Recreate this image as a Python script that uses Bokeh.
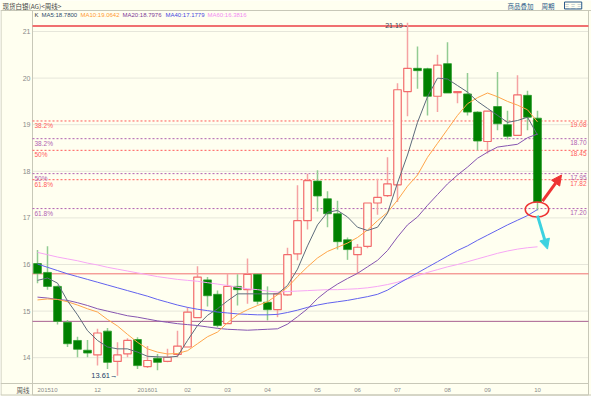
from bokeh.plotting import figure
from bokeh.models import Range1d, Label, Arrow, NormalHead, ColumnDataSource
from bokeh.embed import file_html
from bokeh.resources import INLINE
from bokeh.core.properties import value

# ---------------- data (weekly silver) ----------------
opens = [16.02, 15.83, 15.53, 14.76, 14.37, 14.16, 14.06, 14.57, 13.92, 14.08,
         14.39, 13.81, 13.99, 13.92, 14.07, 14.23, 14.86, 15.67, 15.36, 14.73,
         15.53, 15.46, 15.79, 15.19, 15.03, 15.35, 16.23, 16.94, 17.79, 17.41,
         17.09, 16.53, 16.21, 16.39, 17.32, 17.48, 17.71, 19.71, 20.21, 20.20,
         19.61, 20.31, 19.69, 19.66, 19.27, 18.64, 19.39, 19.00, 18.77, 19.63,
         19.14]
highs = [16.31, 16.39, 15.55, 14.81, 14.45, 14.38, 14.62, 14.64, 14.33, 14.42,
         14.44, 14.25, 14.08, 14.19, 14.58, 15.08, 15.96, 15.73, 15.44, 15.80,
         15.79, 16.13, 15.80, 15.53, 15.40, 16.36, 17.70, 17.95, 18.02, 17.57,
         17.37, 16.58, 16.44, 17.32, 17.84, 18.30, 19.89, 21.19, 20.68, 20.22,
         20.50, 20.77, 19.72, 20.11, 19.29, 19.29, 20.13, 19.30, 20.06, 19.73,
         19.30]
lows = [15.60, 15.46, 14.71, 14.23, 14.01, 14.01, 13.83, 13.76, 13.61, 14.01,
        13.76, 13.78, 13.73, 13.90, 14.01, 14.23, 14.86, 15.10, 14.65, 14.73,
        15.12, 15.16, 15.14, 14.80, 14.87, 15.33, 16.09, 16.75, 17.14, 16.80,
        16.32, 16.10, 15.81, 16.35, 17.07, 17.45, 17.34, 19.18, 19.77, 19.20,
        19.27, 19.68, 19.46, 19.20, 18.45, 18.38, 18.88, 18.68, 18.77, 18.88,
        17.16]
closes = [15.81, 15.53, 14.78, 14.30, 14.18, 14.10, 14.53, 13.90, 14.06, 14.37,
          13.83, 13.94, 13.90, 14.01, 14.25, 14.98, 15.73, 15.33, 14.69, 15.53,
          15.46, 15.79, 15.21, 15.03, 15.37, 16.21, 16.94, 17.80, 17.47, 17.09,
          16.49, 16.32, 16.37, 17.32, 17.44, 17.73, 19.75, 20.21, 20.16, 19.61,
          20.28, 19.68, 19.71, 19.27, 18.65, 19.29, 19.02, 18.75, 19.64, 19.16,
          17.34]

ma5 = [15.66, 15.71, 15.60, 15.22, 14.92, 14.58, 14.37, 14.23, 14.19, 14.19,
       14.12, 14.03, 14.02, 14.01, 14.03, 14.37, 14.69, 14.91, 15.05, 15.22,
       15.37, 15.37, 15.37, 15.37, 15.37, 15.55, 15.90, 16.40, 16.85, 17.12,
       17.16, 17.02, 16.80, 16.73, 16.80, 17.10, 17.75, 18.35, 19.05, 19.60,
       20.00, 19.98, 19.84, 19.70, 19.50, 19.35, 19.20, 19.05, 19.09, 19.16,
       18.78]
ma10 = [15.24, 15.26, 15.25, 15.20, 15.13, 15.05, 14.98, 14.82, 14.68, 14.50,
        14.33, 14.19, 14.12, 14.08, 14.09, 14.15, 14.30, 14.45, 14.55, 14.75,
        14.92, 15.03, 15.12, 15.20, 15.35, 15.51, 15.74, 15.95, 16.14, 16.28,
        16.37, 16.46, 16.58, 16.74, 16.94, 17.12, 17.38, 17.68, 17.92, 18.30,
        18.60, 18.90, 19.20, 19.45, 19.58, 19.68, 19.60, 19.50, 19.42, 19.32,
        19.06]
ma20 = [15.30, 15.28, 15.25, 15.23, 15.18, 15.12, 15.05, 15.00, 14.95, 14.90,
        14.87, 14.83, 14.79, 14.76, 14.73, 14.71, 14.69, 14.66, 14.63, 14.61,
        14.60, 14.59, 14.60, 14.61, 14.62, 14.72, 14.88, 15.05, 15.27, 15.44,
        15.58, 15.70, 15.81, 15.95, 16.09, 16.30, 16.59, 16.85, 17.02, 17.27,
        17.50, 17.73, 17.92, 18.09, 18.28, 18.41, 18.52, 18.55, 18.58, 18.72,
        18.80]
ma40 = [16.01, 15.94, 15.87, 15.80, 15.74, 15.68, 15.62, 15.56, 15.50, 15.44,
        15.38, 15.32, 15.25, 15.19, 15.13, 15.08, 15.04, 15.01, 14.98, 14.96,
        14.94, 14.93, 14.92, 14.92, 14.93, 14.97, 15.02, 15.08, 15.13, 15.17,
        15.20, 15.23, 15.27, 15.31, 15.36, 15.45, 15.58, 15.70, 15.82, 15.94,
        16.06, 16.18, 16.30, 16.40, 16.52, 16.63, 16.74, 16.85, 16.95, 17.05,
        17.18]
ma60 = [16.26, 16.21, 16.16, 16.12, 16.08, 16.03, 15.99, 15.94, 15.90, 15.86,
        15.82, 15.78, 15.74, 15.71, 15.68, 15.66, 15.64, 15.61, 15.58, 15.55,
        15.51, 15.48, 15.46, 15.43, 15.41, 15.42, 15.43, 15.44, 15.45, 15.46,
        15.46, 15.47, 15.48, 15.50, 15.53, 15.57, 15.62, 15.69, 15.76, 15.83,
        15.89, 15.95, 16.00, 16.06, 16.12, 16.18, 16.24, 16.29, 16.33, 16.36,
        16.38]

month_pos = [1, 6, 11, 15, 19, 23, 28, 32, 36, 41, 45, 50]
month_labels = ["201510", "12", "201601", "02", "03", "04", "05", "06", "07", "08", "09", "10"]
price_ticks = [14, 15, 16, 17, 18, 19, 20, 21]

fib_red_levels = [19.08, 18.45, 17.82]
fib_red_names = ["38.2%", "50%", "61.8%"]
fib_red_values = ["19.08", "18.45", "17.82"]
fib_purple_levels = [18.70, 17.95, 17.20]
fib_purple_names = ["38.2%", "50%", "61.8%"]
fib_purple_values = ["18.70", "17.95", "17.20"]

top_line = 21.12
red_support = 15.80
purple_support = 14.78
high_idx, high_val = 37, 21.19
low_idx, low_val = 8, 13.61

legend_names = ["MA5", "MA10", "MA20", "MA40", "MA60"]
legend_values = ["18.7800", "19.0642", "18.7976", "17.1779", "16.3816"]

# ---------------- styling / layout ----------------
BG = "#fffff0"
UP = "#f26b6b"
UP_WICK = "#f5a3a3"
DN = "#008000"
DN_WICK = "#92cc92"
MA_COLORS = ["#5d6b7b", "#ffa54a", "#8655b0", "#6262ee", "#f7a6f5"]
LEG_COLORS = ["#2e4a6a", "#ff9a30", "#803a98", "#4848e0", "#f28cf0"]
FIB_RED = "#ff5a5a"
FIB_PUR = "#b060b0"
PANEL = "#c8c8b8"
FONT = "Liberation Sans"
CJK = "Noto Sans CJK SC"

W, H = 591, 396
PXU = 10.0      # px per candle
PYU = 46.6      # px per price unit
X_ORIGIN = -3.7             # candle index at pixel x = 0
Y_ORIGIN = 21 + 31 / PYU    # price at pixel y = 0
FL, FR, FT, FB = 32, 588, 10, 383   # price panel edges in pixels


def px_x(px):
    return X_ORIGIN + px / PXU


def px_y(py):
    return Y_ORIGIN - py / PYU


p = figure(width=W, height=H, x_range=Range1d(px_x(0), px_x(W)),
           y_range=Range1d(px_y(H), px_y(0)), output_backend="svg", toolbar_location=None,
           x_axis_location=None, y_axis_location=None, min_border=0,
           background_fill_color=BG, border_fill_color=BG)
p.outline_line_color = None
p.grid.visible = False

xl, xr = px_x(FL), px_x(FR)

# grid + tick labels (price axis)
p.segment(x0=[xl] * len(price_ticks), x1=[xr] * len(price_ticks), y0=price_ticks, y1=price_ticks,
          line_color="#e6e6da", line_width=1)
p.text(x=[px_x(30)] * len(price_ticks), y=price_ticks, text=[str(t) for t in price_ticks],
       text_align="right", text_baseline="middle", text_font_size="7px",
       text_font=value(FONT), text_color="#8a8a8a")
# time axis labels
p.text(x=month_pos, y=[px_y(389)] * len(month_pos), text=month_labels, text_align="center",
       text_baseline="middle", text_font_size="6px", text_font=value(FONT), text_color="#8a8a8a")

# panel frame lines
p.segment(x0=[px_x(0), xl, px_x(0), px_x(0.5), xl, px_x(FR)],
          x1=[px_x(W), xl, px_x(FR), px_x(0.5), px_x(FR), px_x(FR)],
          y0=[px_y(FT), px_y(FT), px_y(FB), px_y(FT), px_y(394.5), px_y(FT)],
          y1=[px_y(FT), px_y(394.5), px_y(FB), px_y(394.5), px_y(394.5), px_y(394.5)],
          line_color=PANEL, line_width=1)
p.segment(x0=[px_x(0)], x1=[px_x(W)], y0=[px_y(394.5)], y1=[px_y(394.5)], line_color=PANEL)

# horizontal reference lines
p.segment(x0=[xl], x1=[xr], y0=[top_line], y1=[top_line], line_color="#f07070", line_width=2)
p.segment(x0=[xl], x1=[xr], y0=[red_support], y1=[red_support], line_color="#f07070", line_width=1)
p.segment(x0=[xl], x1=[xr], y0=[purple_support], y1=[purple_support], line_color="#a86090", line_width=1)
p.segment(x0=[xl] * 3, x1=[xr] * 3, y0=fib_red_levels, y1=fib_red_levels, line_color=FIB_RED,
          line_width=1, line_dash="2 2")
p.segment(x0=[xl] * 3, x1=[xr] * 3, y0=fib_purple_levels, y1=fib_purple_levels, line_color=FIB_PUR,
          line_width=1, line_dash="2 2")

# fib texts
fx_left = px_x(34)
fx_right = px_x(586)
dy = 1.0 / PYU
for lv, nm, vv, col in ((fib_red_levels, fib_red_names, fib_red_values, FIB_RED),
                        (fib_purple_levels, fib_purple_names, fib_purple_values, FIB_PUR)):
    p.text(x=[fx_left] * 3, y=[v - dy for v in lv], text=nm, text_color=col,
           text_font_size="6.5px", text_font=value(FONT), text_baseline="top")
    p.text(x=[fx_right] * 3, y=[v - dy for v in lv], text=vv, text_color=col,
           text_font_size="6.5px", text_font=value(FONT), text_baseline="top", text_align="right")

# candles
idx = list(range(len(opens)))
up = [i for i in idx if closes[i] >= opens[i]]
dn = [i for i in idx if closes[i] < opens[i]]


def src(ids):
    return ColumnDataSource(dict(
        x=ids,
        hi=[highs[i] for i in ids], lo=[lows[i] for i in ids],
        top=[max(opens[i], closes[i]) for i in ids],
        bot=[min(opens[i], closes[i]) for i in ids]))


su, sd = src(up), src(dn)
p.segment(x0="x", y0="lo", x1="x", y1="hi", source=su, line_color=UP_WICK, line_width=1.5)
p.segment(x0="x", y0="lo", x1="x", y1="hi", source=sd, line_color=DN_WICK, line_width=1.5)
p.vbar(x="x", top="top", bottom="bot", width=0.75, source=su, fill_color=BG,
       line_color=UP, line_width=1.2)
p.vbar(x="x", top="top", bottom="bot", width=0.78, source=sd, fill_color=DN,
       line_color="#2a9a2a", line_width=0.8)

# moving averages
for ser, col in zip([ma60, ma40, ma20, ma10, ma5], MA_COLORS[::-1]):
    p.line(idx, ser, line_color=col, line_width=1)

# high / low marks
p.text(x=[high_idx - 0.05], y=[high_val - 2.5 / PYU], text=["21.19 -"], text_align="right",
       text_baseline="middle", text_font_size="7px", text_font=value(FONT), text_color="#404050")
p.text(x=[low_idx], y=[low_val], text=["13.61\u2192"], text_align="right",
       text_baseline="middle", text_font_size="7.5px", text_font=value(FONT), text_color="#24406a")

# annotation circle and arrows
circ = dict(x=49.95, y=17.18, w=2.35, h=15 / PYU)
p.ellipse(x=[circ["x"]], y=[circ["y"]], width=circ["w"], height=circ["h"], fill_color=None,
          line_color="#ee3333", line_width=1.5)
p.add_layout(Arrow(end=NormalHead(size=10, fill_color="#ee3333", line_color="#ee3333"),
                   x_start=50.5, y_start=17.36, x_end=52.4, y_end=17.92,
                   line_color="#ee3333", line_width=3))
p.add_layout(Arrow(end=NormalHead(size=10, fill_color="#3cd2e0", line_color="#3cd2e0"),
                   x_start=50.0, y_start=17.05, x_end=51.0, y_end=16.33,
                   line_color="#3cd2e0", line_width=3))

# legend row
leg_x = [41, 80, 122, 165, 207]
p.text(x=[px_x(34)], y=[px_y(14)], text=["K"], text_font_size="6px", text_font=value(FONT),
       text_color="#333333", text_baseline="middle")
p.text(x=[px_x(v) for v in leg_x], y=[px_y(14)] * 5,
       text=[f"{n}:{v}" for n, v in zip(legend_names, legend_values)],
       text_font_size="6px", text_font=value(FONT), text_color=LEG_COLORS, text_baseline="middle")

# title bar texts
p.text(x=[px_x(2)], y=[px_y(5)], text=["现货白银(AG)<周线>"], text_font_size="6.5px",
       text_font=value(CJK), text_color="#444444", text_baseline="middle")
p.text(x=[px_x(507), px_x(541)], y=[px_y(5)] * 2, text=["商品叠加", "周期"], text_font_size="6.5px",
       text_font=value(CJK), text_color="#2a5a8a", text_baseline="middle")
p.add_layout(Label(x=px_x(564), y=px_y(5), text="三 三 三", text_font_size="5px",
                   text_font=CJK, text_color="#2a5a8a", text_baseline="middle",
                   border_line_color="#2a5a8a", border_line_width=1, padding=0))
p.text(x=[px_x(29)], y=[px_y(389)], text=["周线"], text_font_size="6.5px",
       text_font=value(CJK), text_color="#555555", text_baseline="middle", text_align="right")

open("out.html", "w").write(file_html(p, INLINE))
